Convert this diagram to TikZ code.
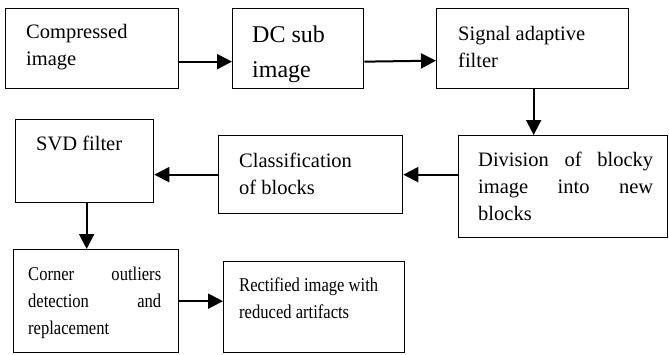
\documentclass[tikz,border=0pt]{standalone}
\usepackage{fontspec}
\setmainfont{Liberation Serif}
\newfontfamily\narrowserif[FakeStretch=0.85]{Liberation Serif}
\usetikzlibrary{arrows.meta}
\newcommand{\jline}[1]{\hbox to\linewidth{#1}}
\tikzset{
  box/.style={draw, line width=1.3pt, rectangle, inner sep=0pt, anchor=north west},
  lbl/.style={anchor=base west, inner sep=0pt},
  arr/.style={line width=2pt, -{Triangle[length=15pt,width=15pt]}},
  topfont/.style={font=\fontsize{20.5}{27}\selectfont},
  botfont/.style={font=\narrowserif\fontsize{19.5}{27}\selectfont}
}
\begin{document}
\begin{tikzpicture}[x=1pt,y=-1pt]
\useasboundingbox (0,0) rectangle (669,354);
% boxes
\node[box, minimum width=173pt, minimum height=80pt] (b1) at (5,8) {};
\node[box, minimum width=131pt, minimum height=80pt] (b2) at (232,8) {};
\node[box, minimum width=192pt, minimum height=80pt] (b3) at (436,8) {};
\node[box, minimum width=209pt, minimum height=102pt] (b4) at (458,135) {};
\node[box, minimum width=184pt, minimum height=78pt] (b5) at (218,135) {};
\node[box, minimum width=138pt, minimum height=83pt] (b6) at (15,119) {};
\node[box, minimum width=165pt, minimum height=103pt] (b7) at (13,249) {};
\node[box, minimum width=181pt, minimum height=91pt] (b8) at (223,261) {};
% labels
\node[lbl, topfont] (t1) at (26,38) {\parbox[t]{150pt}{Compressed\\image}};
\node[lbl, font=\fontsize{24}{35}\selectfont] (t2) at (252,42) {\parbox[t]{110pt}{DC sub\\image}};
\node[lbl, topfont] (t3) at (458,40) {\parbox[t]{165pt}{Signal adaptive\\filter}};
\node[lbl, topfont] (t4) at (478,166) {\parbox[t]{175pt}{\jline{Division\hfill of\hfill blocky}\jline{image\hfill into\hfill new}\jline{blocks\hfill}}};
\node[lbl, topfont] (t5) at (239,167) {\parbox[t]{160pt}{Classification\\of blocks}};
\node[lbl, topfont] (t6) at (36,150) {\parbox[t]{110pt}{SVD filter}};
\node[lbl, botfont] (t7) at (28,280) {\parbox[t]{133pt}{\jline{Corner\hfill outliers}\jline{detection\hfill and}\jline{replacement\hfill}}};
\node[lbl, botfont] (t8) at (239,291) {\parbox[t]{160pt}{Rectified image with\\reduced artifacts}};
% connectors
\draw[arr] ([yshift=-13pt]b1.east) -- ([yshift=-13pt]b2.west);
\draw[arr] ([yshift=-13pt]b2.east) -- ([yshift=-12pt]b3.west);
\draw[arr] ([xshift=1pt]b3.south) -- ([xshift=1pt]b3.south |- b4.north);
\draw[arr] ([yshift=12pt]b4.west) -- ([yshift=12pt]b4.west -| b5.east);
\draw[arr] (b5.west) -- (b5.west -| b6.east);
\draw[arr] ([xshift=2pt]b6.south) -- ([xshift=2pt]b6.south |- b7.north);
\draw[arr] (b7.east) -- (b7.east -| b8.west);
\end{tikzpicture}
\end{document}
